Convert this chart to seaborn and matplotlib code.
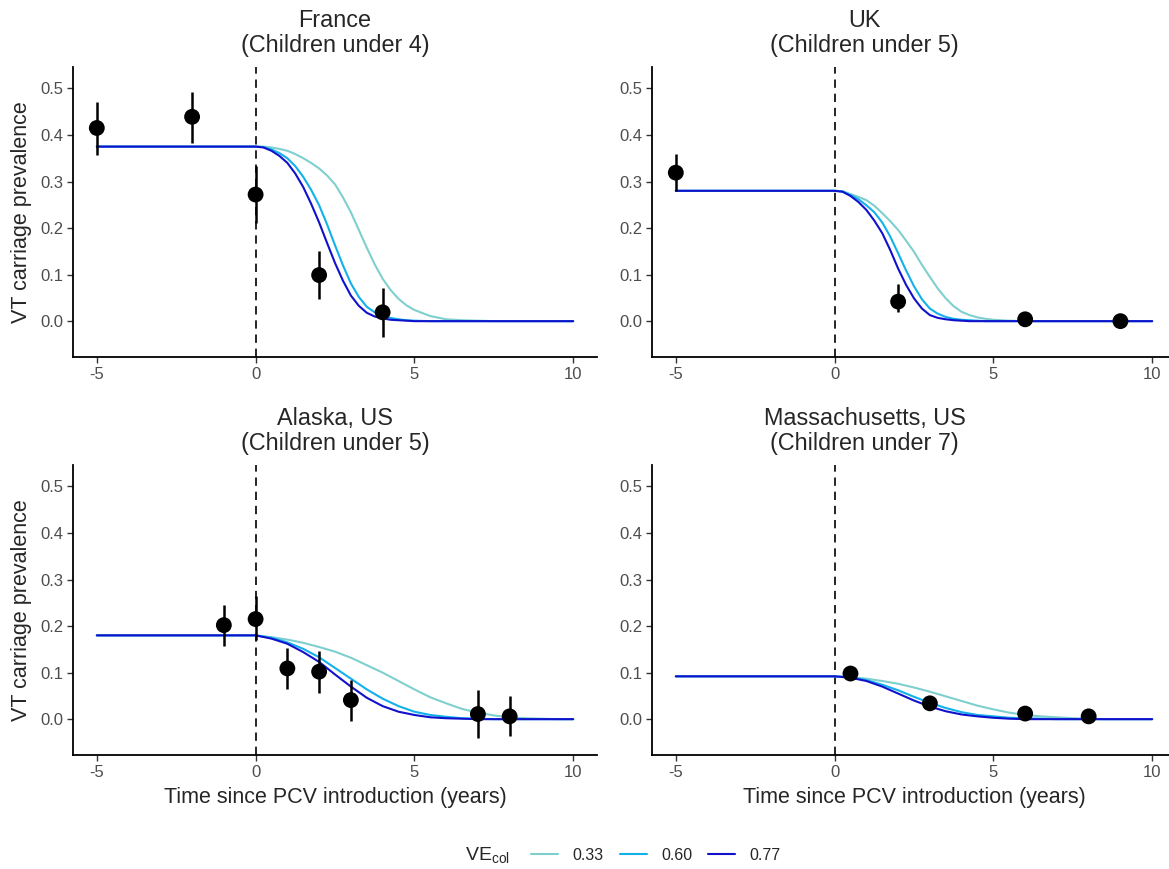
import pandas as pd
import numpy as np

import matplotlib
matplotlib.use("Agg")
import matplotlib.pyplot as plt
from matplotlib.lines import Line2D
import seaborn as sns

sns.set_theme(style="white")
plt.rcParams['font.family'] = ['Liberation Sans', 'DejaVu Sans']
plt.rcParams['mathtext.fontset'] = 'custom'
plt.rcParams['mathtext.rm'] = 'Liberation Sans'
plt.rcParams['mathtext.it'] = 'Liberation Sans'
plt.rcParams['axes.unicode_minus'] = False

# Time grids of the fitted curves (years since PCV introduction)
t_fine = [-5, 0, 0.25, 0.5, 0.75, 1, 1.25, 1.5, 1.75, 2, 2.25, 2.5, 2.75, 3, 3.25, 3.5, 3.75,
          4, 4.25, 4.5, 4.75, 5, 5.5, 6, 6.5, 7, 7.5, 8, 8.5, 9, 9.5, 10]
t_half = [-5, 0, 0.5, 1, 1.5, 2, 2.5, 3, 3.5, 4, 4.5, 5, 5.5, 6, 6.5, 7, 7.5, 8, 8.5, 9, 9.5, 10]

ve_levels = ["0.33", "0.60", "0.77"]
ve_colors = {"0.33": "#7fcfcf", "0.60": "#13b1ec", "0.77": "#1111cc"}

# Fitted VT carriage prevalence
france_033 = [0.375, 0.375, 0.375, 0.373, 0.370, 0.366, 0.359, 0.350, 0.340, 0.328, 0.313, 0.294,
              0.266, 0.234, 0.196, 0.158, 0.122, 0.091, 0.067, 0.048, 0.034, 0.024,
              0.011, 0.004, 0.002, 0.001, 0, 0, 0, 0, 0, 0]
france_060 = [0.375, 0.375, 0.374, 0.369, 0.361, 0.350, 0.333, 0.310, 0.282, 0.249, 0.208, 0.163,
              0.120, 0.081, 0.052, 0.031, 0.019, 0.011, 0.007, 0.004, 0.002, 0.001,
              0, 0, 0, 0, 0, 0, 0, 0, 0, 0]
france_077 = [0.375, 0.375, 0.373, 0.366, 0.355, 0.340, 0.317, 0.288, 0.252, 0.212, 0.168, 0.125,
              0.087, 0.055, 0.033, 0.018, 0.010, 0.006, 0.003, 0.002, 0.001, 0,
              0, 0, 0, 0, 0, 0, 0, 0, 0, 0]

uk_033 = [0.28, 0.28, 0.279, 0.273, 0.267, 0.260, 0.248, 0.232, 0.215, 0.196, 0.173, 0.149,
          0.121, 0.095, 0.070, 0.049, 0.032, 0.020, 0.013, 0.008, 0.005, 0.003,
          0.001, 0, 0, 0, 0, 0, 0, 0, 0, 0]
uk_060 = [0.28, 0.28, 0.279, 0.271, 0.262, 0.249, 0.234, 0.212, 0.182, 0.146, 0.109, 0.075,
          0.047, 0.027, 0.016, 0.009, 0.005, 0.003, 0.002, 0.001, 0, 0,
          0, 0, 0, 0, 0, 0, 0, 0, 0, 0]
uk_077 = [0.28, 0.28, 0.278, 0.269, 0.256, 0.239, 0.216, 0.189, 0.153, 0.113, 0.078, 0.049,
          0.027, 0.013, 0.007, 0.004, 0.002, 0.001, 0, 0, 0, 0,
          0, 0, 0, 0, 0, 0, 0, 0, 0, 0]

alaska_033 = [0.18, 0.18, 0.176, 0.171, 0.164, 0.155, 0.145, 0.132, 0.116, 0.100, 0.082, 0.064,
              0.047, 0.034, 0.022, 0.014, 0.008, 0.004, 0.002, 0.001, 0, 0]
alaska_060 = [0.18, 0.18, 0.175, 0.165, 0.151, 0.133, 0.110, 0.087, 0.064, 0.044, 0.028, 0.016,
              0.009, 0.005, 0.002, 0.001, 0, 0, 0, 0, 0, 0]
alaska_077 = [0.18, 0.18, 0.173, 0.162, 0.144, 0.123, 0.096, 0.070, 0.046, 0.028, 0.016, 0.009,
              0.004, 0.002, 0.001, 0, 0, 0, 0, 0, 0, 0]

mass_033 = [0.092, 0.092, 0.090, 0.087, 0.082, 0.076, 0.068, 0.059, 0.049, 0.039, 0.029, 0.021,
            0.014, 0.009, 0.006, 0.004, 0.002, 0.001, 0, 0, 0, 0]
mass_060 = [0.092, 0.092, 0.090, 0.084, 0.074, 0.062, 0.048, 0.035, 0.024, 0.015, 0.009, 0.006,
            0.003, 0.002, 0.001, 0, 0, 0, 0, 0, 0, 0]
mass_077 = [0.092, 0.092, 0.089, 0.082, 0.070, 0.055, 0.040, 0.027, 0.017, 0.010, 0.006, 0.003,
            0.001, 0, 0, 0, 0, 0, 0, 0, 0, 0]

# Observed prevalence with 95% intervals
france_t = [-5, -2, 0, 2, 4]
france_y = [0.415, 0.439, 0.272, 0.099, 0.019]
france_lo = [0.358, 0.383, 0.210, 0.047, -0.034]
france_hi = [0.471, 0.493, 0.333, 0.151, 0.072]

uk_t = [-5, 2, 6, 9]
uk_y = [0.319, 0.042, 0.004, 0.0]
uk_lo = [0.279, 0.020, 0.0, -0.002]
uk_hi = [0.360, 0.079, 0.009, 0.002]

alaska_t = [-1, 0, 1, 2, 3, 7, 8]
alaska_y = [0.202, 0.215, 0.109, 0.102, 0.041, 0.011, 0.006]
alaska_lo = [0.157, 0.171, 0.065, 0.057, -0.004, -0.040, -0.036]
alaska_hi = [0.246, 0.264, 0.153, 0.147, 0.085, 0.062, 0.049]

mass_t = [0.5, 3, 6, 8]
mass_y = [0.098, 0.034, 0.012, 0.006]
mass_lo = [0.092, 0.030, 0.009, 0.004]
mass_hi = [0.104, 0.038, 0.015, 0.008]

titles = ["France\n(Children under 4)", "UK\n(Children under 5)",
          "Alaska, US\n(Children under 5)", "Massachusetts, US\n(Children under 7)"]

panels = [
    (titles[0], t_fine, [france_033, france_060, france_077], france_t, france_y, france_lo, france_hi),
    (titles[1], t_fine, [uk_033, uk_060, uk_077], uk_t, uk_y, uk_lo, uk_hi),
    (titles[2], t_half, [alaska_033, alaska_060, alaska_077], alaska_t, alaska_y, alaska_lo, alaska_hi),
    (titles[3], t_half, [mass_033, mass_060, mass_077], mass_t, mass_y, mass_lo, mass_hi),
]

W, H = 1169, 869
fig = plt.figure(figsize=(W / 100, H / 100), dpi=100)

# panel boxes in pixels: left, top, width, height
boxes = [(73, 67, 524, 290), (652, 67, 524, 290), (73, 465, 524, 290), (652, 465, 524, 290)]
title_x = [0.5, 0.406, 0.5, 0.406]

for i, (title, tg, curves, pt, py, plo, phi) in enumerate(panels):
    l, t, w, h = boxes[i]
    ax = fig.add_axes([l / W, (H - t - h) / H, w / W, h / H])

    curve_df = pd.concat([pd.DataFrame({"t": tg, "prev": c, "VE": ve})
                          for c, ve in zip(curves, ve_levels)])
    ax.axvline(0, color="black", lw=1.2, ls=(0, (5, 3.5)), zorder=1)
    sns.lineplot(data=curve_df, x="t", y="prev", hue="VE", hue_order=ve_levels,
                 palette=ve_colors, lw=1.5, legend=False, ax=ax, zorder=2)

    ax.vlines(pt, plo, phi, color="black", lw=1.8, zorder=3)
    sns.scatterplot(x=pt, y=py, color="black", s=130, edgecolor="none", ax=ax, zorder=4)

    ax.set_xlim(-5.75, 10.75)
    ax.set_ylim(-0.077, 0.546)
    ax.set_xticks([-5, 0, 5, 10])
    ax.set_yticks([0, 0.1, 0.2, 0.3, 0.4, 0.5])
    ax.set_yticklabels(["0.0", "0.1", "0.2", "0.3", "0.4", "0.5"])
    ax.tick_params(axis="both", which="major", length=4, width=1, color="#333333",
                   labelsize=12, labelcolor="#4d4d4d", pad=3, left=True, bottom=True)
    for side in ["top", "right"]:
        ax.spines[side].set_visible(False)
    for side in ["left", "bottom"]:
        ax.spines[side].set_color("black")
        ax.spines[side].set_linewidth(1.3)

    ax.set_title(title, fontsize=16.8, x=title_x[i], pad=11, linespacing=1.1)

    if i in (0, 2):
        ax.set_ylabel("VT carriage prevalence", fontsize=15.5)
        ax.yaxis.set_label_coords(-41 / w, 0.5)
    else:
        ax.set_ylabel("")
    if i in (2, 3):
        ax.set_xlabel("Time since PCV introduction (years)", fontsize=15.5)
        ax.xaxis.set_label_coords(0.5, -42 / h)
        ax.xaxis.label.set_va("center")
    else:
        ax.set_xlabel("")

# Legend along the bottom
fig.text(465 / W, 1 - 855 / H, r"VE$_{\mathrm{col}}$", fontsize=14, va="center", ha="left")
handles = [Line2D([0], [0], color=ve_colors[v], lw=1.5) for v in ve_levels]
fig.legend(handles, ve_levels, loc="center left", bbox_to_anchor=(531 / W, 1 - 855 / H),
           ncol=3, frameon=False, fontsize=11.5, handlelength=1.7, handletextpad=0.9,
           columnspacing=1.0, borderpad=0, borderaxespad=0)

fig.savefig("out.png", dpi=100)
